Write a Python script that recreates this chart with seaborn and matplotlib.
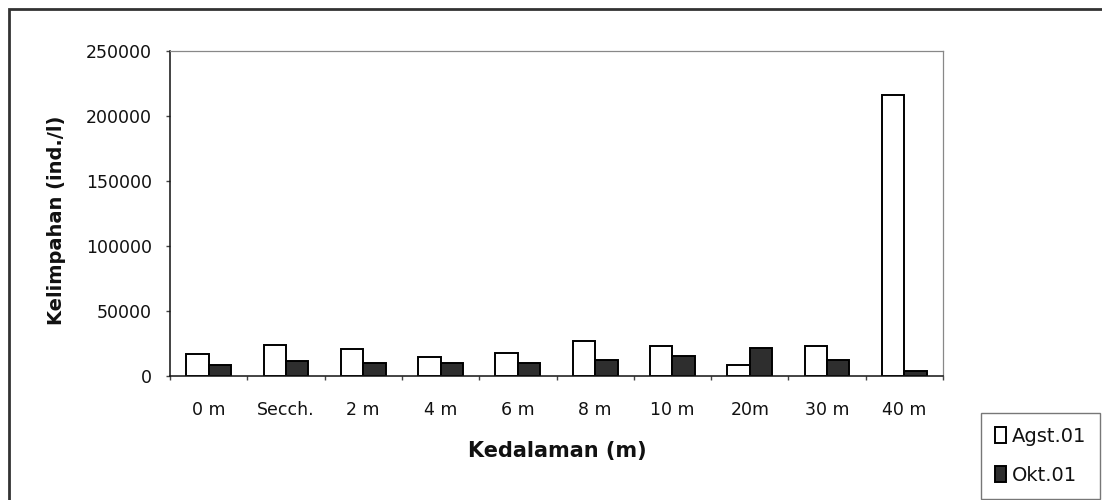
import numpy as np
import pandas as pd
import matplotlib
matplotlib.use("Agg")
import matplotlib.pyplot as plt
import seaborn as sns
from matplotlib.patches import Rectangle
from matplotlib.ticker import FixedLocator

# Abundance per sampling depth for the two sampling periods
kedalaman = ["0 m", "Secch.", "2 m", "4 m", "6 m", "8 m", "10 m", "20m", "30 m", "40 m"]
agst_01 = [17200, 23600, 20800, 14600, 17700, 27200, 22800, 8800, 22800, 215800]
okt_01 = [8800, 11500, 10300, 10300, 10300, 12100, 15100, 21500, 12100, 3600]
periode = ["Agst.01", "Okt.01"]
y_ticks = [0, 50000, 100000, 150000, 200000, 250000]

df = pd.DataFrame({
    "Kedalaman": kedalaman * 2,
    "Periode": [periode[0]] * len(kedalaman) + [periode[1]] * len(kedalaman),
    "Kelimpahan": agst_01 + okt_01,
})

sns.set_theme(style="white")
plt.rcParams["font.family"] = ["DejaVu Sans"]

W, H = 1102, 500
fig = plt.figure(figsize=(W / 100, H / 100), dpi=100)
fig.patch.set_facecolor("white")
ax = fig.add_axes([170 / W, 1 - 376 / H, (943 - 170) / W, (376 - 51) / H])

sns.barplot(
    data=df, x="Kedalaman", y="Kelimpahan", hue="Periode",
    order=kedalaman, hue_order=periode,
    palette=["white", "#2e2e2e"], edgecolor="black", linewidth=1.4,
    width=0.58, gap=0, errorbar=None, ax=ax,
)

ax.set_xlim(-0.5, len(kedalaman) - 0.5)
ax.set_ylim(0, 250000)
ax.set_yticks(y_ticks)
ax.set_yticklabels([str(v) for v in y_ticks])

# tick marks sit on the category boundaries, labels at the centres
ax.xaxis.set_minor_locator(FixedLocator(np.arange(-0.5, len(kedalaman), 1.0)))
ax.tick_params(axis="x", which="major", length=0, pad=18, labelsize=12.5, colors="#111")
ax.tick_params(axis="x", which="minor", bottom=True, length=3, width=1, color="#444", direction="out")
ax.tick_params(axis="y", which="major", left=True, length=3, width=1, color="#444", pad=10,
               labelsize=12.5, labelcolor="#111")

for side in ("left", "bottom"):
    ax.spines[side].set_color("#111")
    ax.spines[side].set_linewidth(1.1)
for side in ("top", "right"):
    ax.spines[side].set_color("#888")
    ax.spines[side].set_linewidth(0.9)

ax.set_ylabel("Kelimpahan (ind./l)", fontsize=14, fontweight="bold", color="#111", va="center")
ax.yaxis.set_label_coords(57 / W, 1 - 220 / H, transform=fig.transFigure)
ax.set_xlabel("Kedalaman (m)", fontsize=15, fontweight="bold", color="#111", va="center")
ax.xaxis.set_label_coords(557 / W, 1 - 451 / H, transform=fig.transFigure)

handles, labels = ax.get_legend_handles_labels()
ax.get_legend().remove()
leg = fig.legend(
    handles, labels, loc="upper left", bbox_to_anchor=(981 / W, 1 - 413 / H),
    bbox_transform=fig.transFigure, frameon=True, fancybox=False,
    fontsize=14, handlelength=0.6, handleheight=0.9, handletextpad=0.3,
    labelspacing=1.05, borderpad=0.7, borderaxespad=0,
)
leg.get_frame().set_edgecolor("#555")
leg.get_frame().set_linewidth(1.0)
for t in leg.get_texts():
    t.set_color("#111")

# outer chart border
fig.add_artist(Rectangle((8.5 / W, -0.1), 1.2, 1.1 - 9.5 / H, transform=fig.transFigure,
                         fill=False, lw=2, ec="#333"))

fig.savefig("out.png", dpi=100, facecolor="white")
